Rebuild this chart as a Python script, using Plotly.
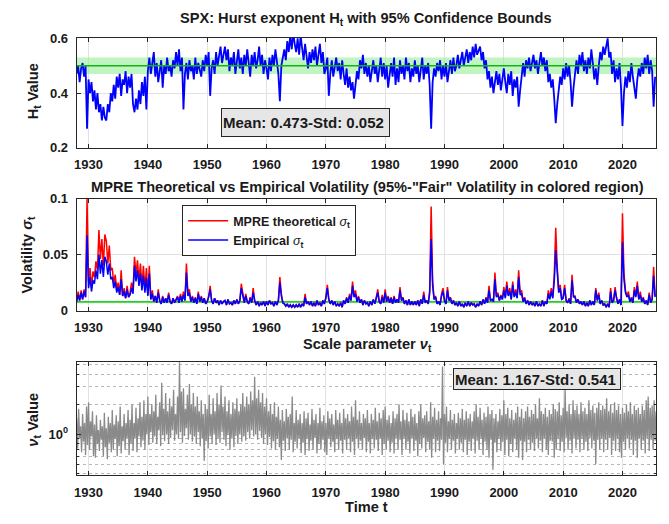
import numpy as np
import plotly.graph_objects as go

# ---------------------------------------------------------------- data
START_YEAR = 1928.0
H_STEP = 0.25          # quarterly Hurst estimates
S_STEP = 0.25          # quarterly volatility estimates
NU_STEP = 1.0 / 6.0    # bi-monthly scale parameter

hurst = [
    0.47, 0.50, 0.44, 0.49,  0.51, 0.46, 0.50, 0.27,  0.45, 0.40, 0.44, 0.37,
    0.41, 0.34, 0.40, 0.33,  0.36, 0.30, 0.35, 0.31,  0.30, 0.36, 0.33, 0.40,
    0.37, 0.43, 0.38, 0.46,  0.42, 0.47, 0.39, 0.45,  0.43, 0.48, 0.40, 0.46,
    0.42, 0.47, 0.36, 0.33,  0.38, 0.34, 0.41, 0.36,  0.44, 0.39, 0.46, 0.34,
    0.48, 0.53, 0.47, 0.51,  0.55, 0.46, 0.51, 0.44,  0.49, 0.52, 0.42, 0.50,
    0.47, 0.53, 0.48, 0.50,  0.46, 0.52, 0.49, 0.55,  0.50, 0.56, 0.48, 0.53,
    0.34, 0.47, 0.51, 0.45,  0.52, 0.48, 0.50, 0.45,  0.53, 0.47, 0.51, 0.49,
    0.46, 0.52, 0.48, 0.54,  0.50, 0.55, 0.39, 0.49,  0.52, 0.47, 0.55, 0.50,
    0.53, 0.57, 0.51, 0.55,  0.57, 0.52, 0.56, 0.48,  0.53, 0.50, 0.55, 0.47,
    0.52, 0.56, 0.49, 0.53,  0.47, 0.54, 0.50, 0.56,  0.51, 0.46, 0.54, 0.50,
    0.55, 0.49, 0.52, 0.57,  0.50, 0.54, 0.47, 0.52,  0.49, 0.45, 0.53, 0.48,
    0.54, 0.50, 0.56, 0.51,  0.47, 0.37, 0.50, 0.53,  0.56, 0.52, 0.59, 0.55,
    0.61, 0.56, 0.62, 0.58,  0.55, 0.60, 0.54, 0.61,  0.57, 0.52, 0.58, 0.53,
    0.49, 0.55, 0.51, 0.56,  0.52, 0.57, 0.50, 0.54,  0.58, 0.51, 0.55, 0.47,
    0.49, 0.53, 0.39, 0.47,  0.52, 0.46, 0.50, 0.53,  0.48, 0.51, 0.45, 0.52,
    0.47, 0.43, 0.49, 0.42,  0.46, 0.41, 0.44, 0.38,  0.43, 0.48, 0.45, 0.52,
    0.49, 0.54, 0.47, 0.51,  0.46, 0.50, 0.44, 0.49,  0.52, 0.47, 0.50, 0.44,
    0.48, 0.53, 0.46, 0.51,  0.45, 0.50, 0.42, 0.48,  0.51, 0.46, 0.53, 0.43,
    0.49, 0.44, 0.52, 0.47,  0.50, 0.45, 0.53, 0.48,  0.51, 0.44, 0.49, 0.46,
    0.52, 0.47, 0.50, 0.44,  0.48, 0.53, 0.45, 0.50,  0.47, 0.51, 0.43, 0.27,
    0.44, 0.49, 0.46, 0.51,  0.48, 0.52, 0.45, 0.50,  0.46, 0.51, 0.44, 0.49,
    0.52, 0.47, 0.53, 0.48,  0.50, 0.54, 0.49, 0.52,  0.55, 0.50, 0.53, 0.56,
    0.51, 0.55, 0.52, 0.57,  0.53, 0.58, 0.54, 0.56,  0.57, 0.52, 0.55, 0.49,
    0.52, 0.45, 0.48, 0.42,  0.46, 0.40, 0.44, 0.48,  0.43, 0.47, 0.41, 0.45,
    0.49, 0.44, 0.40, 0.47,  0.43, 0.48, 0.39, 0.45,  0.42, 0.46, 0.35, 0.41,
    0.47, 0.51, 0.46, 0.52,  0.49, 0.53, 0.48, 0.51,  0.54, 0.49, 0.52, 0.47,
    0.51, 0.55, 0.50, 0.53,  0.48, 0.52, 0.44, 0.47,  0.42, 0.45, 0.38, 0.29,
    0.36, 0.42, 0.46, 0.43,  0.49, 0.45, 0.51, 0.46,  0.50, 0.44, 0.35, 0.42,
    0.48, 0.52, 0.47, 0.54,  0.50, 0.55, 0.48, 0.52,  0.47, 0.53, 0.49, 0.56,
    0.51, 0.45, 0.49, 0.43,  0.50, 0.55, 0.52, 0.57,  0.54, 0.58, 0.60, 0.53,
    0.55, 0.47, 0.52, 0.44,  0.49, 0.45, 0.51, 0.42,  0.28, 0.40, 0.46, 0.42,
    0.48, 0.44, 0.51, 0.46,  0.42, 0.38, 0.45, 0.49,  0.46, 0.51, 0.47, 0.53,
    0.49, 0.54, 0.47, 0.52,  0.48, 0.35, 0.46,
]
H_FAIR = 0.5
H_BAND = (0.47, 0.53)
H_MEAN, H_STD = 0.473, 0.052

# volatility in units of 1e-3 (four values per year)
sigma_emp_milli = [
    8, 14, 9, 16,  10, 17, 12, 67,  20, 30, 17, 27,  24, 36, 28, 50,
    33, 45, 30, 48,  44, 32, 42, 28,  30, 20, 26, 16,  21, 14, 28, 13,
    17, 11, 19, 12,  14, 20, 15, 40,  26, 36, 22, 33,  18, 31, 16, 29,
    13, 33, 10, 15,  8, 13, 7, 16,  9, 6, 12, 7,  11, 7, 14, 8,
    6, 11, 7, 10,  12, 7, 13, 8,  14, 9, 34, 13,  16, 8, 12, 7,
    11, 6, 15, 8,  12, 7, 11, 6,  8, 12, 19, 9,  6, 11, 7, 9,
    5, 9, 6, 8,  9, 5, 10, 6,  7, 5, 9, 6,  10, 6, 9, 20,
    12, 7, 13, 8,  6, 11, 7, 16,  9, 5, 8, 4,  7, 5, 8, 4,
    8, 5, 9, 6,  7, 4, 8, 5,  9, 25, 13, 7,  6, 4, 6, 3,
    5, 3, 5, 3,  5, 3, 6, 3,  6, 4, 12, 6,  8, 5, 8, 4,
    7, 4, 9, 5,  7, 4, 9, 6,  11, 20, 10, 6,  9, 5, 8, 4,
    6, 4, 7, 3,  9, 6, 11, 7,  13, 9, 22, 12,  15, 8, 12, 7,
    10, 5, 9, 6,  7, 4, 8, 5,  10, 6, 11, 16,  8, 6, 12, 7,
    16, 8, 12, 7,  11, 6, 12, 7,  10, 7, 18, 9,  11, 6, 9, 5,
    10, 5, 8, 5,  8, 5, 9, 4,  10, 6, 14, 7,  9, 6, 15, 64,
    22, 10, 12, 6,  8, 5, 13, 17,  9, 6, 18, 9,  11, 6, 9, 5,
    7, 4, 8, 4,  6, 3, 7, 4,  8, 4, 7, 5,  6, 3, 6, 4,
    8, 5, 10, 6,  11, 7, 18, 9,  10, 8, 28, 12,  14, 9, 13, 10,
    18, 11, 22, 13,  17, 10, 23, 12,  16, 11, 30, 14,  15, 8, 11, 6,
    9, 5, 8, 5,  7, 4, 8, 4,  6, 4, 9, 4,  8, 6, 15, 10,
    17, 11, 26, 54,  35, 16, 20, 10,  11, 20, 9, 7,  10, 6, 27, 12,
    12, 7, 10, 6,  8, 5, 8, 4,  7, 4, 9, 5,  8, 5, 18, 9,
    14, 6, 9, 5,  6, 3, 6, 3,  17, 7, 9, 18,  11, 6, 10, 5,
    61, 28, 16, 12,  14, 8, 11, 7,  18, 12, 22, 10,  14, 8, 11, 6,
    9, 5, 14, 7,  10, 31, 12,
]
sigma_mpre_milli = [
    8, 17, 9, 18,  10, 19, 12, 100,  26, 38, 20, 35,  30, 44, 36, 72,
    46, 64, 40, 68,  62, 42, 58, 36,  38, 24, 32, 19,  25, 14, 36, 13,
    20, 11, 22, 12,  16, 25, 18, 48,  32, 45, 27, 42,  21, 40, 18, 38,
    14, 40, 10, 18,  8, 13, 7, 19,  9, 6, 13, 7,  11, 7, 16, 8,
    6, 11, 7, 10,  13, 7, 15, 8,  17, 9, 42, 15,  19, 8, 13, 7,
    12, 6, 17, 8,  13, 7, 11, 6,  8, 13, 22, 9,  6, 11, 7, 9,
    5, 9, 6, 8,  9, 5, 10, 6,  7, 5, 9, 6,  10, 6, 9, 24,
    13, 7, 15, 8,  6, 12, 7, 20,  9, 5, 8, 4,  7, 5, 8, 4,
    8, 5, 9, 6,  7, 4, 8, 5,  9, 30, 15, 7,  6, 4, 6, 3,
    5, 3, 5, 3,  5, 3, 6, 3,  6, 4, 15, 6,  8, 5, 8, 4,
    7, 4, 9, 5,  7, 4, 9, 6,  12, 23, 10, 6,  9, 5, 8, 4,
    6, 4, 7, 3,  9, 6, 12, 7,  15, 9, 26, 14,  18, 8, 13, 7,
    10, 5, 9, 6,  7, 4, 8, 5,  10, 6, 12, 19,  8, 6, 14, 7,
    19, 8, 13, 7,  12, 6, 13, 7,  10, 7, 21, 9,  12, 6, 9, 5,
    10, 5, 8, 5,  8, 5, 9, 4,  10, 6, 17, 7,  9, 6, 18, 93,
    27, 10, 13, 6,  8, 5, 15, 20,  9, 6, 21, 9,  12, 6, 9, 5,
    7, 4, 8, 4,  6, 3, 7, 4,  8, 4, 7, 5,  6, 3, 6, 4,
    8, 5, 10, 6,  12, 7, 22, 9,  10, 8, 34, 13,  16, 9, 14, 10,
    21, 12, 26, 14,  20, 10, 26, 13,  19, 12, 36, 16,  18, 8, 12, 6,
    9, 5, 8, 5,  7, 4, 8, 4,  6, 4, 9, 4,  8, 6, 18, 11,
    20, 12, 32, 74,  39, 18, 23, 10,  12, 23, 9, 7,  11, 6, 32, 13,
    13, 7, 10, 6,  8, 5, 8, 4,  7, 4, 9, 5,  8, 5, 20, 9,
    16, 6, 9, 5,  6, 3, 6, 3,  20, 7, 9, 21,  12, 6, 10, 5,
    87, 33, 18, 13,  17, 8, 12, 7,  21, 13, 26, 10,  17, 8, 12, 6,
    9, 5, 16, 7,  10, 39, 13,
]
SIGMA_FAIR = 0.0077
SIGMA_BAND = (0.0066, 0.0088)

# scale parameter (six values per year)
nu = [
    1.45, 0.72, 1.8, 0.9, 1.2, 0.66,    1.6, 0.84, 1.3, 0.62, 1.9, 0.78,
    2.1, 0.7, 1.35, 0.95, 1.7, 0.6,     1.25, 0.58, 1.55, 0.8, 1.1, 0.68,
    1.4, 0.88, 1.2, 0.6, 1.65, 0.74,    1.15, 0.56, 1.5, 0.82, 1.3, 0.66,
    1.75, 0.7, 1.25, 0.9, 1.55, 0.6,    1.35, 0.76, 1.9, 0.64, 1.2, 0.85,
    1.6, 0.7, 1.3, 0.92, 1.75, 0.62,    1.4, 0.8, 2.0, 0.68, 1.3, 0.9,
    1.85, 0.66, 1.45, 0.95, 2.1, 0.74,  1.5, 0.86, 2.2, 0.7, 1.6, 1.0,
    2.4, 0.78, 1.6, 1.05, 2.0, 0.82,    1.7, 0.95, 2.5, 0.8, 1.5, 1.1,
    2.1, 0.76, 3.3, 0.98, 1.8, 0.85,    2.6, 1.0, 1.7, 0.8, 2.3, 0.92,
    1.9, 1.1, 2.8, 0.86, 1.6, 1.0,      2.4, 0.9, 5.3, 1.05, 2.7, 0.82,
    2.9, 0.96, 1.8, 1.15, 2.5, 0.88,    3.2, 1.0, 2.0, 0.84, 2.6, 0.95,
    1.9, 0.8, 2.4, 1.05, 1.7, 0.76,     2.2, 0.9, 1.6, 0.54, 2.0, 0.85,
    1.8, 0.72, 2.5, 0.95, 1.6, 0.8,     2.3, 1.0, 1.7, 0.78, 2.6, 0.9,
    2.0, 0.82, 3.1, 1.05, 1.9, 0.88,    2.4, 0.76, 1.7, 0.98, 2.2, 0.7,
    1.6, 0.9, 2.1, 0.74, 1.8, 0.96,     2.3, 0.8, 1.7, 1.0, 2.0, 0.84,
    2.6, 0.95, 1.9, 0.86, 2.4, 1.05,    2.0, 0.9, 2.7, 1.1, 2.2, 0.95,
    3.8, 1.0, 2.3, 0.88, 2.8, 1.08,     2.1, 0.92, 2.6, 0.8, 1.9, 1.0,
    2.3, 0.78, 1.7, 0.94, 2.0, 0.72,    1.6, 0.85, 2.1, 0.7, 1.5, 0.9,
    1.9, 0.74, 1.4, 0.55, 1.75, 0.86,   1.35, 0.68, 1.8, 0.92, 1.5, 0.7,
    1.6, 0.88, 2.4, 0.66, 1.3, 0.84,    1.75, 0.72, 1.4, 0.9, 1.6, 0.65,
    1.3, 0.82, 1.7, 0.62, 1.45, 0.9,    1.65, 0.68, 1.25, 0.86, 1.8, 0.7,
    1.4, 0.92, 1.6, 0.64, 1.3, 0.8,     1.85, 0.7, 1.35, 0.88, 1.55, 0.66,
    1.3, 0.62, 1.7, 0.9, 1.45, 0.74,    1.6, 0.84, 1.25, 0.66, 1.75, 0.9,
    1.4, 0.7, 1.65, 0.86, 1.3, 0.64,    1.8, 0.88, 1.45, 0.7, 1.6, 0.92,
    1.35, 0.66, 1.9, 0.84, 1.5, 0.62,   2.2, 0.9, 1.4, 0.72, 1.7, 0.86,
    1.3, 0.7, 1.6, 0.92, 1.45, 0.66,    1.75, 0.84, 1.3, 0.64, 1.6, 0.9,
    1.4, 0.72, 1.85, 0.88, 1.35, 0.68,  1.65, 0.9, 1.45, 0.62, 1.75, 0.8,
    1.9, 0.7, 1.4, 0.86, 1.55, 0.66,    1.3, 0.82, 1.7, 0.64, 1.45, 0.92,
    1.6, 0.7, 2.0, 0.88, 1.35, 0.62,    1.75, 0.9, 1.4, 0.7, 1.65, 0.84,
    1.35, 0.64, 1.8, 0.9, 1.5, 0.68,    1.6, 0.86, 1.3, 0.6, 1.7, 0.8,
    2.0, 0.72, 1.45, 0.92, 1.55, 0.66,  1.7, 0.84, 1.35, 0.7, 2.1, 0.58,
    1.5, 0.9, 1.85, 0.66, 1.4, 0.86,    1.7, 0.68, 1.45, 0.88, 4.8, 0.5,
    1.6, 0.82, 1.9, 0.66, 1.35, 0.9,    1.75, 0.7, 1.4, 0.86, 1.6, 0.64,
    1.3, 0.9, 1.65, 0.7, 1.45, 0.82,    1.8, 0.66, 1.4, 0.88, 1.7, 0.62,
    1.45, 0.84, 1.6, 0.68, 1.35, 0.9,   1.7, 0.64, 2.0, 0.86, 1.5, 0.7,
    1.85, 0.9, 1.4, 0.62, 1.65, 0.84,   1.5, 0.7, 1.9, 0.58, 1.6, 0.88,
    1.75, 0.44, 1.45, 0.82, 1.6, 0.66,  1.35, 0.9, 1.8, 0.68, 1.55, 0.84,
    2.2, 0.62, 1.6, 0.88, 1.85, 0.6,    1.45, 0.8, 1.75, 0.66, 1.4, 0.9,
    1.65, 0.7, 1.9, 0.58, 1.5, 0.86,    1.8, 0.55, 1.45, 0.84, 1.7, 0.66,
    1.9, 0.88, 1.5, 0.7, 1.75, 0.82,    1.6, 0.68, 2.0, 0.9, 1.45, 0.72,
    2.3, 0.86, 1.7, 0.66, 1.6, 0.9,     1.85, 0.7, 1.5, 0.62, 1.75, 0.86,
    1.6, 0.84, 2.0, 0.58, 1.8, 0.7,     1.7, 0.9, 2.1, 0.68, 1.55, 0.84,
    1.85, 0.66, 2.9, 0.92, 1.7, 0.7,    2.0, 0.86, 1.6, 0.64, 2.2, 0.9,
    1.75, 0.72, 1.95, 0.88, 1.6, 0.66,  2.1, 0.9, 1.7, 0.7, 1.85, 0.84,
    1.6, 0.68, 2.2, 0.92, 1.75, 0.72,   1.95, 0.86, 1.65, 0.5, 1.85, 0.88,
    2.1, 0.7, 1.75, 0.9, 1.95, 0.66,    1.8, 0.88, 2.3, 0.7, 1.7, 0.92,
    2.0, 0.62, 1.65, 0.86, 2.1, 0.68,   1.75, 0.9, 1.95, 0.66, 1.6, 0.58,
    1.85, 0.84, 1.65, 0.7, 2.0, 0.9,    1.7, 0.72, 2.1, 0.88, 1.6, 0.62,
    1.95, 0.86, 1.75, 0.58, 1.85, 0.9,  1.6, 0.7, 1.95, 0.86, 1.75, 0.64,
    2.2, 0.9, 2.4, 0.68, 1.85, 0.88,    1.95, 0.7, 2.2, 0.86, 1.7,
]
NU_MEAN, NU_STD = 1.167, 0.541
NU_MINOR = [0.4, 0.5, 0.6, 0.7, 0.8, 0.9, 2, 3, 4, 5]

decade_ticks = list(range(1930, 2021, 10))
X_RANGE = [1928.0, 2025.66]

# ---------------------------------------------------------------- derived series
t_h = START_YEAR + H_STEP * np.arange(len(hurst))
t_s = START_YEAR + S_STEP * np.arange(len(sigma_emp_milli))
t_nu = START_YEAR + NU_STEP * np.arange(len(nu))
sigma_emp = np.array(sigma_emp_milli) / 1000.0
sigma_mpre = np.array(sigma_mpre_milli) / 1000.0

# ---------------------------------------------------------------- layout helpers
W, H = 669, 524
FONT = "Liberation Sans, Arial, Helvetica, sans-serif"
INK = "#262626"
TXT = "#1a1a1a"
GRID = "#e2e2e2"


def px(x):
    return x / W


def py(y):
    return 1 - y / H


X_DOM = [px(74), px(656)]
Y_DOMS = {1: [py(145), py(31.7)], 2: [py(312.5), py(197.3)], 3: [py(481.7), py(365)]}

fig = go.Figure()

# --- panel 1: Hurst exponent
fig.add_trace(go.Scatter(x=[X_RANGE[0], X_RANGE[1], X_RANGE[1], X_RANGE[0]],
                         y=[H_BAND[0], H_BAND[0], H_BAND[1], H_BAND[1]],
                         fill="toself", fillcolor="rgba(140,235,140,0.55)", line=dict(width=0),
                         mode="lines", hoverinfo="skip", showlegend=False, xaxis="x", yaxis="y"))
fig.add_trace(go.Scatter(x=t_h, y=hurst, mode="lines", line=dict(color="#0000ff", width=1.8),
                         showlegend=False, xaxis="x", yaxis="y"))
fig.add_trace(go.Scatter(x=X_RANGE, y=[H_FAIR, H_FAIR], mode="lines",
                         line=dict(color="#12b312", width=1.6), showlegend=False, xaxis="x", yaxis="y"))

# --- panel 2: volatility
fig.add_trace(go.Scatter(x=[X_RANGE[0], X_RANGE[1], X_RANGE[1], X_RANGE[0]],
                         y=[SIGMA_BAND[0], SIGMA_BAND[0], SIGMA_BAND[1], SIGMA_BAND[1]],
                         fill="toself", fillcolor="rgba(140,235,140,0.7)", line=dict(width=0),
                         mode="lines", hoverinfo="skip", showlegend=False, xaxis="x2", yaxis="y2"))
fig.add_trace(go.Scatter(x=X_RANGE, y=[SIGMA_FAIR, SIGMA_FAIR], mode="lines",
                         line=dict(color="#12b312", width=1.2), showlegend=False, xaxis="x2", yaxis="y2"))
fig.add_trace(go.Scatter(x=t_s, y=sigma_mpre, mode="lines", line=dict(color="#ff0000", width=1.5),
                         name="<b>MPRE theoretical </b><i>σ</i><sub><b>t</b></sub>", xaxis="x2", yaxis="y2"))
fig.add_trace(go.Scatter(x=t_s, y=sigma_emp, mode="lines", line=dict(color="#0000ff", width=1.5),
                         name="<b>Empirical </b><i>σ</i><sub><b>t</b></sub>", xaxis="x2", yaxis="y2"))

# --- panel 3: scale parameter
fig.add_trace(go.Scatter(x=t_nu, y=nu, mode="lines", line=dict(color="#8a8a8a", width=1.3),
                         showlegend=False, xaxis="x3", yaxis="y3"))

tick_font = dict(family=FONT, size=13, color=TXT, weight="bold")
axis_common = dict(showline=True, linecolor=INK, linewidth=1, mirror="allticks",
                   ticks="inside", ticklen=4, tickcolor=INK, showgrid=True,
                   gridcolor=GRID, gridwidth=1, zeroline=False, tickfont=tick_font)

xaxis_common = dict(axis_common, range=X_RANGE, domain=X_DOM, tickmode="array",
                    tickvals=decade_ticks, ticktext=[str(v) for v in decade_ticks],
                    ticklabelstandoff=5)

fig.update_layout(
    width=W, height=H, margin=dict(l=0, r=0, t=0, b=0),
    paper_bgcolor="white", plot_bgcolor="white",
    font=dict(family=FONT, color=TXT),
    xaxis=dict(xaxis_common, anchor="y"),
    yaxis=dict(axis_common, domain=Y_DOMS[1], range=[0.2, 0.602], anchor="x",
               tickvals=[0.2, 0.4, 0.6], ticktext=["0.2", "0.4", "0.6"], ticklabelstandoff=5),
    xaxis2=dict(xaxis_common, anchor="y2"),
    yaxis2=dict(axis_common, domain=Y_DOMS[2], range=[0, 0.1], anchor="x2",
                tickvals=[0, 0.05, 0.1], ticktext=["0", "0.05", "0.1"], ticklabelstandoff=5),
    xaxis3=dict(xaxis_common, anchor="y3"),
    yaxis3=dict(axis_common, domain=Y_DOMS[3], type="log", range=[np.log10(0.39), np.log10(5.39)],
                anchor="x3", tickmode="array", tickvals=[1], ticktext=["10<sup>0</sup>"],
                ticklabelstandoff=5,
                minor=dict(tickmode="array", tickvals=NU_MINOR, showgrid=True, griddash="dot",
                           gridcolor="#b8b8b8", gridwidth=1, ticks="inside", ticklen=2,
                           tickcolor=INK)),
    showlegend=True,
    legend=dict(x=px(180), y=py(204), xanchor="left", yanchor="top",
                bgcolor="white", bordercolor=INK, borderwidth=1,
                font=dict(family=FONT, size=12.5, color=TXT),
                itemwidth=40, tracegroupgap=2),
)

ann = []
title_font = dict(family=FONT, size=14.6, color=TXT, weight="bold")


def label(text, x, y, font, **kw):
    ann.append(dict(text=text, x=px(x), y=py(y), xref="paper", yref="paper",
                    xanchor=kw.pop("xanchor", "center"), yanchor=kw.pop("yanchor", "middle"),
                    showarrow=False, font=font, **kw))


label("SPX: Hurst exponent H<sub>t</sub> with 95% Confidence Bounds", 365, 12, title_font)
label('MPRE Theoretical vs Empirical Volatility (95%-"Fair" Volatility in colored region)', 366, 185,
      title_font)
label("Scale parameter <i>ν</i><sub>t</sub>", 366, 348, title_font)
label("Time t", 365, 515, title_font)

ylab_font = dict(family=FONT, size=14.6, color=TXT, weight="bold")
label("H<sub>t</sub> Value", 31, 87, ylab_font, textangle=-90)
label("Volatility <i>σ</i><sub>t</sub>", 25, 255, ylab_font, textangle=-90)
label("<i>ν</i><sub>t</sub> Value", 31, 425, ylab_font, textangle=-90)

box_font = dict(family=FONT, size=15, color=TXT, weight="bold")
label(f"Mean: {H_MEAN:.3f}-Std: {H_STD:.3f}", 219, 104, box_font,
      xanchor="left", yanchor="top", align="left", width=165, height=25,
      bgcolor="#e6e6e6", bordercolor=INK, borderwidth=1, borderpad=1)
label(f"Mean: {NU_MEAN:.3f}-Std: {NU_STD:.3f}", 452, 372, box_font,
      xanchor="left", yanchor="top", align="left", width=164, height=18,
      bgcolor="#e6e6e6", bordercolor=INK, borderwidth=1, borderpad=1)
fig.update_layout(annotations=ann)

fig.write_html("out.html")
